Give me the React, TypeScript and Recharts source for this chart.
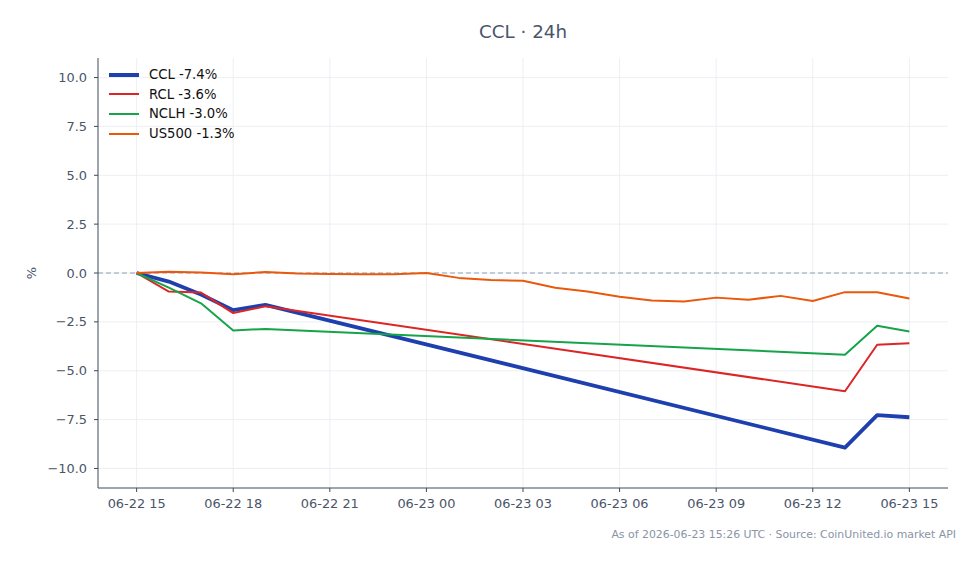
import React from 'react';
import {
    LineChart,
    Line,
    XAxis,
    YAxis,
    CartesianGrid,
    ReferenceLine,
    Legend
} from 'recharts';

// hours since 06-22 15:00 UTC
const hours = [0, 1, 2, 3, 4, 5, 6, 7, 8, 9, 10, 11, 12, 13, 14, 15, 16, 17, 18, 19, 20, 21, 22, 23, 24];

// % change vs. start; null = no quote for that hour
const ccl = [0, -0.44, -1.1, -1.9, -1.63, null, null, null, null, null, null, null, null, null, null, null, null, null, null, null, null, null, -8.93, -7.27, -7.38];
const rcl = [0, -0.95, -1.0, -2.05, -1.7, null, null, null, null, null, null, null, null, null, null, null, null, null, null, null, null, null, -6.05, -3.67, -3.59];
const nclh = [0, -0.75, -1.55, -2.94, -2.86, null, null, null, null, null, null, null, null, null, null, null, null, null, null, null, null, null, -4.18, -2.7, -2.99];
const us500 = [0, 0.07, 0.02, -0.07, 0.05, -0.03, -0.05, -0.07, -0.07, 0.0, -0.25, -0.36, -0.4, -0.75, -0.95, -1.21, -1.41, -1.46, -1.26, -1.37, -1.17, -1.43, -0.98, -0.98, -1.3];

const xTicks = [0, 3, 6, 9, 12, 15, 18, 21, 24];
const xTickLabels = ['06-22 15', '06-22 18', '06-22 21', '06-23 00', '06-23 03', '06-23 06', '06-23 09', '06-23 12', '06-23 15'];
const yTicks = [-10, -7.5, -5, -2.5, 0, 2.5, 5, 7.5, 10];

const series = [
    { key: 'CCL', values: ccl, color: '#1e40af', width: 3.8 },
    { key: 'RCL', values: rcl, color: '#dc2626', width: 2 },
    { key: 'NCLH', values: nclh, color: '#16a34a', width: 2 },
    { key: 'US500', values: us500, color: '#ea580c', width: 2 }
];

const data = hours.map((h, i) => {
    const row: Record<string, number | null> = { h };
    series.forEach((s) => {
        row[s.key] = s.values[i];
    });
    return row;
});

const lastValue = (vals: (number | null)[]) => {
    for (let i = vals.length - 1; i >= 0; i--) {
        if (vals[i] !== null) return vals[i] as number;
    }
    return 0;
};

const FONT = '"DejaVu Sans", Verdana, sans-serif';
const TEXT = '#4a5568';
const AXIS = '#3f4a5a';

const fmtY = (v: number) => (v < 0 ? '\u2212' : '') + Math.abs(v).toFixed(1);

const renderLegend = () => (
    <div style={{ fontFamily: FONT, fontSize: 13.2, color: '#111' }}>
        {series.map((s) => (
            <div key={s.key} style={{ display: 'flex', alignItems: 'center', height: 19.6 }}>
                <svg width={30} height={8} style={{ marginRight: 10 }}>
                    <line x1={0} y1={4} x2={30} y2={4} stroke={s.color} strokeWidth={s.width > 2 ? 4 : 2} />
                </svg>
                <span>{`${s.key} ${lastValue(s.values).toFixed(1)}%`}</span>
            </div>
        ))}
    </div>
);

export default function App() {
    return (
        <div style={{ position: 'absolute', left: 0, top: 0, width: 979, height: 564, background: '#fff', fontFamily: FONT }}>
            <div style={{ position: 'absolute', left: 98, width: 850, top: 21, textAlign: 'center', fontSize: 18.3, color: TEXT }}>
                CCL · 24h
            </div>
            <div style={{ position: 'absolute', left: 31, top: 273, transform: 'translate(-50%, -50%) rotate(-90deg)', fontSize: 13, color: TEXT }}>
                %
            </div>
            <LineChart width={979} height={564} data={data} margin={{ top: 58, right: 31, bottom: 0, left: 0 }}>
                <CartesianGrid stroke="#e8ebf0" strokeWidth={0.8} syncWithTicks />
                <XAxis
                    type="number"
                    dataKey="h"
                    domain={[-1.2, 25.2]}
                    ticks={xTicks}
                    tickFormatter={(v) => xTickLabels[xTicks.indexOf(v)]}
                    height={76}
                    tickSize={4}
                    tickMargin={7}
                    stroke={AXIS}
                    tick={{ fill: TEXT, fontSize: 12.9, fontFamily: FONT }}
                    interval={0}
                />
                <YAxis
                    type="number"
                    domain={[-11, 11]}
                    ticks={yTicks}
                    tickFormatter={fmtY}
                    width={98}
                    tickSize={4}
                    tickMargin={7}
                    stroke={AXIS}
                    tick={{ fill: TEXT, fontSize: 12.9, fontFamily: FONT }}
                    interval={0}
                />
                <ReferenceLine y={0} stroke="#8fa0b8" strokeDasharray="5 3" strokeWidth={1} />
                {series.map((s) => (
                    <Line
                        key={s.key}
                        type="linear"
                        dataKey={s.key}
                        stroke={s.color}
                        strokeWidth={s.width}
                        strokeLinejoin="round"
                        dot={false}
                        activeDot={false}
                        connectNulls
                        isAnimationActive={false}
                    />
                ))}
                <Legend
                    layout="vertical"
                    align="center"
                    verticalAlign="middle"
                    content={renderLegend}
                    wrapperStyle={{ position: 'absolute', left: 109, top: 65, width: 220 }}
                />
            </LineChart>
            <div style={{ position: 'absolute', right: 23, top: 528, fontSize: 10.9, color: '#8a94a6', whiteSpace: 'nowrap' }}>
                As of 2026-06-23 15:26 UTC · Source: CoinUnited.io market API
            </div>
        </div>
    );
}
